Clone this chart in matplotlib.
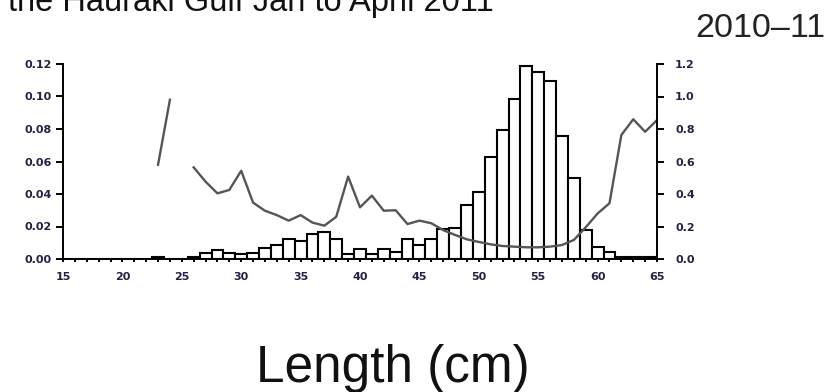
import numpy as np
import matplotlib
matplotlib.use('Agg')
import matplotlib.pyplot as plt

# length classes (cm) and proportion at length
lengths = list(range(15, 66))
props = [0, 0, 0, 0, 0, 0, 0, 0,            # 15-22
         0.0015, 0, 0, 0.0015, 0.004, 0.0055, 0.004, 0.003,   # 23-30
         0.004, 0.007, 0.0086, 0.0123, 0.011, 0.0152, 0.0166, 0.0123,  # 31-38
         0.003, 0.006, 0.003, 0.006, 0.0043, 0.0123, 0.0086, 0.0123,   # 39-46
         0.0185, 0.019, 0.033, 0.041, 0.063, 0.0796, 0.0987, 0.119,    # 47-54
         0.115, 0.1095, 0.0755, 0.0497, 0.0178, 0.0072, 0.0045, 0.0015,  # 55-62
         0.0015, 0.0015, 0.0015]                                       # 63-65

# c.v. line (right axis), gap at 25
cv_len = list(range(23, 66))
cv = [0.58, 0.98, np.nan, 0.564, 0.476, 0.404, 0.425, 0.543,
      0.347, 0.297, 0.27, 0.236, 0.27, 0.224, 0.205, 0.26,
      0.507, 0.318, 0.39, 0.297, 0.30, 0.215, 0.236, 0.22,
      0.178, 0.148, 0.121, 0.105, 0.09, 0.08, 0.076, 0.072,
      0.072, 0.076, 0.086, 0.117, 0.195, 0.28, 0.343, 0.763,
      0.86, 0.783, 0.855]

plt.rcParams['font.family'] = ['Liberation Sans', 'DejaVu Sans']

fig = plt.figure(figsize=(8.38, 3.92), dpi=100)
ax = fig.add_axes([63 / 838, 1 - 259 / 392, 594 / 838, 195 / 392])

ax.bar(lengths, props, width=1.0, color='white', edgecolor='black', linewidth=1.5)
ax.set_xlim(15, 65)
ax.set_ylim(0, 0.12)
ax.set_yticks(np.arange(0, 0.121, 0.02))
ax.set_yticklabels(['%.2f' % v for v in np.arange(0, 0.121, 0.02)])
ax.set_xticks(range(15, 66, 5))
ax.set_xticks(range(15, 66), minor=True)

for s in ['top', 'right']:
    ax.spines[s].set_visible(False)
for s in ['left', 'bottom']:
    ax.spines[s].set_linewidth(1.4)

ax.tick_params(axis='y', direction='out', length=5, width=1.4, pad=3)
ax.tick_params(axis='x', which='both', direction='out', length=2.5, width=1.4, pad=7)
for lab in ax.get_xticklabels() + ax.get_yticklabels():
    lab.set_fontfamily('DejaVu Sans')
    lab.set_fontsize(8)
    lab.set_fontweight('bold')
    lab.set_color('#222244')

ax2 = ax.twinx()
ax2.plot(cv_len, cv, color='#555555', linewidth=1.7)
ax2.set_ylim(0, 1.2)
ax2.set_yticks(np.arange(0, 1.21, 0.2))
ax2.set_yticklabels(['%.1f' % v for v in np.arange(0, 1.21, 0.2)])
for s in ['top', 'left', 'bottom']:
    ax2.spines[s].set_visible(False)
ax2.spines['right'].set_linewidth(1.4)
ax2.tick_params(axis='y', direction='out', length=5, width=1.4, pad=8)
for lab in ax2.get_yticklabels():
    lab.set_fontfamily('DejaVu Sans')
    lab.set_fontsize(8)
    lab.set_fontweight('bold')
    lab.set_color('#222244')

fig.text(8 / 838, 1 - 10.5 / 392, 'the Hauraki Gulf Jan to April 2011',
         fontsize=23.5, va='baseline', ha='left', color='#111111')
fig.text(825 / 838, 1 - 36.7 / 392, '2010\u201311',
         fontsize=24.5, va='baseline', ha='right', color='#222222')
fig.text(393 / 838, 1 - 381.7 / 392, 'Length (cm)',
         fontsize=37, va='baseline', ha='center', color='#111111')

fig.savefig('out.png', dpi=100)
